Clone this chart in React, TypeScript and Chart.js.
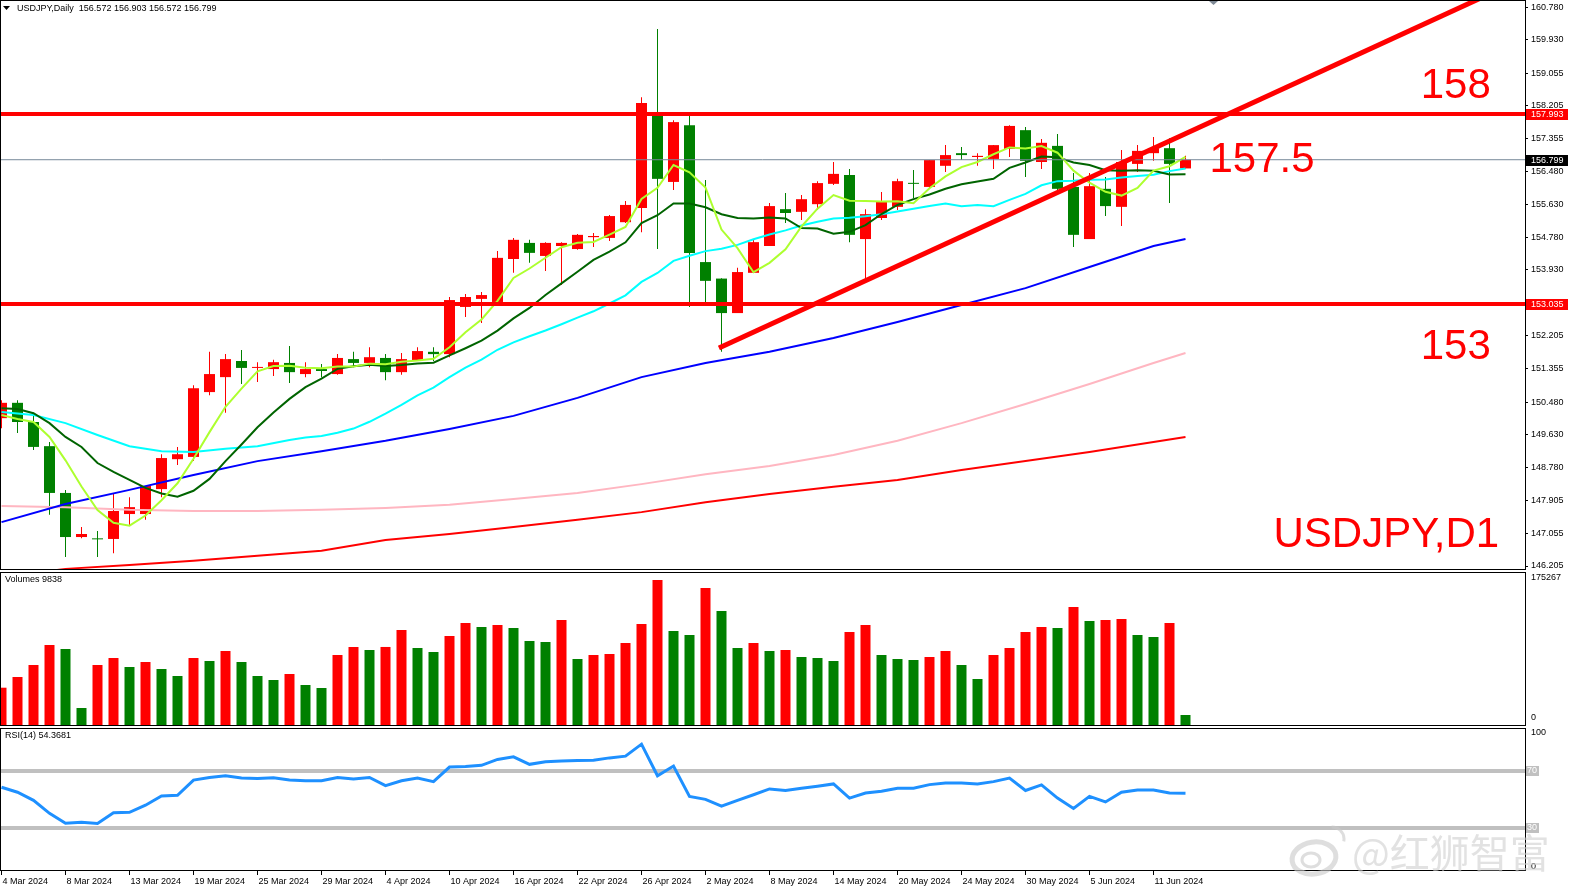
import { useEffect, useRef } from 'react';
import { Chart, registerables } from 'chart.js';

Chart.register(...registerables);

const FONT = '"Liberation Sans", Arial, sans-serif';
const X_MIN = -0.09375;
const X_MAX = 95.21875;
const UP = '#FF0000';
const DOWN = '#008000';

const headerMain = 'USDJPY,Daily  156.572 156.903 156.572 156.799';
const headerVol = 'Volumes 9838';
const headerRsi = 'RSI(14) 54.3681';

const dateLabels = ['4 Mar 2024', '8 Mar 2024', '13 Mar 2024', '19 Mar 2024', '25 Mar 2024', '29 Mar 2024', '4 Apr 2024', '10 Apr 2024', '16 Apr 2024', '22 Apr 2024', '26 Apr 2024', '2 May 2024', '8 May 2024', '14 May 2024', '20 May 2024', '24 May 2024', '30 May 2024', '5 Jun 2024', '11 Jun 2024'];
const dateStep = 4;

const priceTicks = [160.78, 159.93, 159.055, 158.205, 157.355, 156.48, 155.63, 154.78, 153.93, 152.205, 151.355, 150.48, 149.63, 148.78, 147.905, 147.055, 146.205];
const priceMin = 146.1007;
const priceMax = 160.964;

const opens = [150.06, 150.46, 149.96, 149.33, 148.11, 146.96, 146.92, 146.91, 147.56, 147.56,
  148.21, 148.99, 149.05, 150.74, 151.13, 151.55, 151.37, 151.34, 151.50, 151.21,
  151.34, 151.21, 151.60, 151.50, 151.63, 151.26, 151.55, 151.79, 151.73, 152.96,
  153.17, 153.09, 154.21, 154.63, 154.29, 154.55, 154.47, 154.78, 154.76, 155.17,
  155.54, 157.96, 156.22, 157.70, 154.13, 153.70, 152.80, 153.85, 154.55, 155.51,
  155.44, 155.64, 156.17, 156.40, 154.73, 155.28, 155.57, 156.19, 156.09, 156.64,
  156.97, 156.87, 156.82, 157.08, 157.57, 156.74, 157.16, 156.09, 154.73, 156.04,
  155.57, 156.69, 156.97, 157.10, 156.572];
const highs = [150.53, 150.53, 150.20, 149.44, 148.19, 147.22, 147.12, 148.11, 148.00, 148.29,
  149.12, 149.31, 150.92, 151.79, 151.73, 151.84, 151.52, 151.58, 151.94, 151.52,
  151.47, 151.73, 151.79, 151.91, 151.73, 151.76, 151.91, 151.91, 153.22, 153.30,
  153.35, 154.42, 154.76, 154.71, 154.65, 154.65, 154.86, 154.89, 155.36, 155.72,
  158.43, 160.21, 157.83, 157.96, 156.27, 153.71, 153.98, 154.73, 155.67, 155.93,
  155.88, 156.24, 156.74, 156.56, 155.51, 155.96, 156.30, 156.53, 156.79, 157.18,
  157.13, 156.97, 157.18, 157.70, 157.65, 157.34, 157.47, 156.45, 156.45, 156.35,
  157.05, 157.18, 157.39, 157.36, 156.903];
const lows = [149.80, 149.67, 149.23, 147.54, 146.44, 146.93, 146.44, 146.54, 147.25, 147.41,
  148.00, 148.84, 148.94, 150.66, 150.20, 150.95, 151.00, 151.16, 150.98, 151.13,
  151.13, 151.19, 151.39, 151.39, 151.05, 151.19, 151.55, 151.55, 151.65, 152.70,
  152.54, 153.05, 153.85, 154.11, 153.90, 153.53, 154.45, 154.52, 154.68, 155.15,
  154.91, 154.47, 156.01, 152.96, 153.01, 151.79, 152.80, 153.85, 154.55, 155.15,
  155.23, 155.49, 156.14, 154.65, 153.61, 155.23, 155.49, 155.80, 156.06, 156.48,
  156.79, 156.64, 156.56, 156.87, 156.35, 156.56, 155.96, 154.52, 154.73, 155.33,
  155.07, 156.48, 156.77, 155.67, 156.572];
const closes = [150.46, 149.96, 149.31, 148.11, 146.96, 147.04, 146.90, 147.64, 147.74, 148.29,
  149.02, 149.12, 150.84, 151.21, 151.60, 151.37, 151.39, 151.52, 151.26, 151.34,
  151.29, 151.63, 151.50, 151.65, 151.26, 151.60, 151.81, 151.73, 153.14, 153.22,
  153.27, 154.24, 154.71, 154.37, 154.63, 154.63, 154.84, 154.81, 155.33, 155.62,
  158.28, 156.30, 157.78, 154.37, 153.64, 152.80, 153.87, 154.65, 155.59, 155.41,
  155.77, 156.19, 156.43, 154.84, 155.38, 155.70, 156.24, 156.17, 156.79, 156.92,
  156.92, 156.90, 157.18, 157.68, 156.77, 157.24, 156.04, 154.84, 156.11, 155.59,
  156.74, 157.03, 157.10, 156.69, 156.799];

const volumes = [43590, 55760, 69420, 92180, 87630, 20480, 69420, 77380, 67140, 72830,
  64870, 56900, 77380, 73970, 85350, 72830, 56900, 52350, 59180, 46660,
  43240, 80800, 89900, 86490, 89950, 109250, 88760, 84210, 102420, 117210,
  112660, 114940, 111520, 96730, 95590, 120630, 76250, 80800, 81940, 94450,
  116080, 166150, 108110, 103560, 157040, 130870, 88760, 94450, 85350, 86490,
  78520, 77380, 73970, 106970, 114940, 80800, 76250, 75110, 78520, 85350,
  69420, 53490, 80800, 88760, 106970, 112660, 111520, 135420, 119490, 120630,
  121770, 103560, 101280, 117210, 12520];
const volumeMax = 175267;

const rsiValues = [58.6, 55.1, 49.4, 40.3, 33.4, 34.1, 33.2, 40.7, 41.0, 46.0,
  52.4, 52.9, 63.6, 65.4, 66.6, 65.0, 64.7, 65.2, 63.6, 63.1,
  63.1, 65.4, 64.3, 65.4, 59.7, 63.1, 65.0, 62.5, 72.7, 73.0,
  73.9, 78.0, 79.8, 74.6, 76.4, 76.9, 77.3, 77.5, 79.1, 80.3,
  88.7, 66.6, 73.4, 52.2, 50.1, 45.3, 49.4, 53.3, 57.4, 56.3,
  57.9, 59.3, 60.9, 51.0, 54.5, 55.8, 57.9, 57.9, 60.4, 61.5,
  61.5, 60.9, 62.5, 65.0, 56.3, 60.2, 51.0, 43.7, 52.2, 48.3,
  55.1, 56.7, 56.7, 54.5, 54.37];
const rsiLevels = [70, 30];

const ma5EarlyIdx = [0, 1, 2, 3];
const ma5Early = [150.14, 150.04, 149.96, 149.57];
const ma10EarlyIdx = [0, 1, 2, 3, 4, 5, 6, 7, 8];
const ma10Early = [150.32, 150.30, 150.19, 149.93, 149.57, 149.31, 148.89, 148.66, 148.45];
const ma20EarlyIdx = [0, 2, 4, 6, 8, 10, 12, 14, 16, 18];
const ma20Early = [150.22, 150.14, 149.93, 149.62, 149.33, 149.20, 149.18, 149.26, 149.33, 149.49];

// slow averages
const slowIdx = [0, 4, 8, 12, 16, 20, 24, 28, 32, 36, 40, 44, 48, 52, 56, 60, 64, 68, 72, 74];
const ma50 = [147.35, 147.82, 148.19, 148.58, 148.94, 149.20, 149.47, 149.78, 150.12, 150.59, 151.13, 151.50, 151.79, 152.15, 152.57, 153.01, 153.45, 154.00, 154.55, 154.73];
const ma100 = [147.77, 147.74, 147.67, 147.64, 147.64, 147.67, 147.72, 147.80, 147.95, 148.11, 148.34, 148.60, 148.81, 149.10, 149.47, 149.93, 150.43, 150.95, 151.50, 151.76];
const ma200 = [145.92, 146.13, 146.23, 146.34, 146.47, 146.60, 146.88, 147.04, 147.22, 147.41, 147.61, 147.87, 148.08, 148.27, 148.45, 148.71, 148.94, 149.18, 149.44, 149.57];

const hLevels = [157.993, 153.035];
const bidPrice = 156.799;
const trendBars = [44.84, 93];
const trendPrices = [151.89, 161.12];

const noteTexts = ['158', '157.5', '153', 'USDJPY,D1'];
const noteBars = [88.7, 75.5, 88.7, 79.5];
const notePrices = [158.41, 156.48, 151.60, 146.70];

const isUp = (i: number) => closes[i] >= opens[i];
const candleColors = closes.map((_, i) => (isUp(i) ? UP : DOWN));
const volColors = volumes.map((v, i) => (i === 0 || v > volumes[i - 1] ? UP : DOWN));

function smaPoints(period: number, earlyIdx: number[], early: number[]) {
  const pts = earlyIdx.map((k, j) => ({ x: k, y: early[j] }));
  for (let i = period - 1; i < closes.length; i++) {
    let s = 0;
    for (let k = i - period + 1; k <= i; k++) s += closes[k];
    pts.push({ x: i, y: s / period });
  }
  return pts;
}

const sparse = (vals: number[]) => slowIdx.map((k, j) => ({ x: k, y: vals[j] }));
const hline = (v: number) => [{ x: X_MIN, y: v }, { x: X_MAX, y: v }];

function lineDs(data: any[], color: string, width: number, order: number) {
  return { type: 'line' as const, data, borderColor: color, borderWidth: width, pointRadius: 0, tension: 0, fill: false, order, clip: 0 };
}

function drawFrame(chart: any) {
  const { ctx, chartArea: a } = chart;
  ctx.save();
  ctx.strokeStyle = '#000';
  ctx.lineWidth = 1;
  ctx.strokeRect(Math.round(a.left) + 0.5, Math.round(a.top) + 0.5, Math.round(a.right - a.left), Math.round(a.bottom - a.top) - 1);
  ctx.restore();
}

const noPad = (s: any) => { s.paddingTop = 0; s.paddingBottom = 0; };
const xHidden = { type: 'linear' as const, min: X_MIN, max: X_MAX, display: false, offset: false };

export default function App() {
  const mainRef = useRef<HTMLCanvasElement>(null);
  const volRef = useRef<HTMLCanvasElement>(null);
  const rsiRef = useRef<HTMLCanvasElement>(null);

  useEffect(() => {
    const charts: Chart[] = [];

    const mainDecor = {
      id: 'mainDecor',
      afterDraw(chart: any) {
        const { ctx, scales } = chart;
        const ys = scales.y;
        const xs = scales.x;
        drawFrame(chart);
        ctx.save();
        ctx.fillStyle = '#000';
        ctx.beginPath();
        ctx.moveTo(3, 6); ctx.lineTo(10, 6); ctx.lineTo(6.5, 10); ctx.closePath(); ctx.fill();
        ctx.font = `9px ${FONT}`;
        ctx.textBaseline = 'middle';
        ctx.textAlign = 'left';
        ctx.fillText(headerMain, 17, 9);
        ctx.fillStyle = '#7f8a96';
        ctx.beginPath();
        ctx.moveTo(1209, 1); ctx.lineTo(1218, 1); ctx.lineTo(1213.5, 5); ctx.closePath(); ctx.fill();
        ctx.fillStyle = '#FF0000';
        ctx.font = `42px ${FONT}`;
        ctx.textBaseline = 'alphabetic';
        noteTexts.forEach((t, i) => {
          ctx.fillText(t, xs.getPixelForValue(noteBars[i]), ys.getPixelForValue(notePrices[i]));
        });
        const boxes: [number, string][] = [[hLevels[0], '#FF0000'], [bidPrice, '#000000'], [hLevels[1], '#FF0000']];
        ctx.font = `9px ${FONT}`;
        ctx.textBaseline = 'middle';
        boxes.forEach(([v, bg]) => {
          const py = Math.round(ys.getPixelForValue(v));
          ctx.fillStyle = bg;
          ctx.fillRect(1526, py - 5, 42, 11);
          ctx.fillStyle = '#FFFFFF';
          ctx.fillText(v.toFixed(3), 1531, py + 0.5);
        });
        ctx.restore();
      },
    };

    if (mainRef.current) {
      charts.push(new Chart(mainRef.current, {
        type: 'bar',
        data: {
          datasets: [
            { type: 'bar', data: closes.map((_, i) => ({ x: i, y: [lows[i], highs[i]] })), backgroundColor: candleColors, barThickness: 1, grouped: false, inflateAmount: 0, order: 30 } as any,
            { type: 'bar', data: closes.map((_, i) => ({ x: i, y: [opens[i], closes[i]] })), backgroundColor: candleColors, barThickness: 11, grouped: false, minBarLength: 1, inflateAmount: 0, order: 29 } as any,
            lineDs(sparse(ma200), '#FF0000', 2, 20),
            lineDs(sparse(ma100), '#FFB6C1', 2, 19),
            lineDs(sparse(ma50), '#0000FF', 2, 18),
            lineDs(smaPoints(20, ma20EarlyIdx, ma20Early), '#00FFFF', 2, 17),
            lineDs(smaPoints(10, ma10EarlyIdx, ma10Early), '#006400', 2, 16),
            lineDs(smaPoints(5, ma5EarlyIdx, ma5Early), '#ADFF2F', 2, 15),
            lineDs(hline(bidPrice), '#778899', 1, 12),
            lineDs(hline(hLevels[0]), '#FF0000', 4, 10),
            lineDs(hline(hLevels[1]), '#FF0000', 4, 10),
            lineDs(trendBars.map((b, i) => ({ x: b, y: trendPrices[i] })), '#FF0000', 5, 9),
          ] as any,
        },
        options: {
          animation: false,
          responsive: false,
          maintainAspectRatio: false,
          layout: { padding: { top: 0, bottom: 1, left: 0, right: 0 } },
          plugins: { legend: { display: false }, tooltip: { enabled: false } },
          scales: {
            x: xHidden,
            y: {
              position: 'right',
              min: priceMin,
              max: priceMax,
              afterBuildTicks: (s: any) => { s.ticks = priceTicks.map((v) => ({ value: v })); },
              afterFit: (s: any) => { s.width = 48; noPad(s); },
              ticks: { autoSkip: false, padding: 3, color: '#000', font: { family: FONT, size: 9 }, callback: (v: any) => Number(v).toFixed(3) },
              grid: { drawOnChartArea: false, drawTicks: true, tickLength: 3, color: '#000' },
              border: { display: false },
            },
          },
        } as any,
        plugins: [mainDecor],
      }));
    }

    const volDecor = {
      id: 'volDecor',
      afterDraw(chart: any) {
        const { ctx } = chart;
        drawFrame(chart);
        ctx.save();
        ctx.fillStyle = '#000';
        ctx.font = `9px ${FONT}`;
        ctx.textBaseline = 'middle';
        ctx.textAlign = 'left';
        ctx.fillText(headerVol, 5, 9);
        ctx.fillText(String(volumeMax), 1531, 7);
        ctx.fillText('0', 1531, 147);
        ctx.restore();
      },
    };

    if (volRef.current) {
      charts.push(new Chart(volRef.current, {
        type: 'bar',
        data: {
          datasets: [
            { type: 'bar', data: volumes.map((v, i) => ({ x: i, y: v })), backgroundColor: volColors, barThickness: 10, grouped: false, inflateAmount: 0 } as any,
          ],
        },
        options: {
          animation: false,
          responsive: false,
          maintainAspectRatio: false,
          layout: { padding: { top: 1, bottom: 1, left: 0, right: 0 } },
          plugins: { legend: { display: false }, tooltip: { enabled: false } },
          scales: {
            x: xHidden,
            y: {
              position: 'right', min: 0, max: volumeMax,
              afterFit: (s: any) => { s.width = 48; noPad(s); },
              ticks: { display: false },
              grid: { display: false },
              border: { display: false },
            },
          },
        } as any,
        plugins: [volDecor],
      }));
    }

    const rsiDecor = {
      id: 'rsiDecor',
      afterDraw(chart: any) {
        const { ctx, scales } = chart;
        const ys = scales.y;
        drawFrame(chart);
        ctx.save();
        ctx.fillStyle = '#000';
        ctx.font = `9px ${FONT}`;
        ctx.textBaseline = 'middle';
        ctx.textAlign = 'left';
        ctx.fillText(headerRsi, 5, 9);
        ctx.fillText('100', 1531, 6);
        ctx.fillText('0', 1531, 140);
        rsiLevels.forEach((lv) => {
          const py = Math.round(ys.getPixelForValue(lv));
          ctx.fillStyle = '#C0C0C0';
          ctx.fillRect(1526, py - 5, 13, 10);
          ctx.fillStyle = '#FFFFFF';
          ctx.fillText(String(lv), 1527, py);
        });
        ctx.globalAlpha = 0.6;
        ctx.strokeStyle = '#c8c8c8';
        ctx.lineWidth = 5;
        ctx.beginPath();
        ctx.ellipse(1314, 131, 22, 16, -0.15, 0, Math.PI * 2);
        ctx.stroke();
        ctx.lineWidth = 3;
        ctx.beginPath();
        ctx.ellipse(1311, 133, 9, 7, 0, 0, Math.PI * 2);
        ctx.stroke();
        ctx.beginPath();
        ctx.arc(1332, 112, 12, -1.6, 0.2);
        ctx.stroke();
        ctx.fillStyle = '#cfcfcf';
        ctx.font = '40px "Noto Sans CJK SC", sans-serif';
        ctx.textBaseline = 'alphabetic';
        ctx.fillText('@红狮智富', 1352, 141);
        ctx.restore();
      },
    };

    if (rsiRef.current) {
      charts.push(new Chart(rsiRef.current, {
        type: 'line',
        data: {
          datasets: [
            lineDs(hline(rsiLevels[0]), '#C0C0C0', 4, 5),
            lineDs(hline(rsiLevels[1]), '#C0C0C0', 4, 5),
            lineDs(rsiValues.map((v, i) => ({ x: i, y: v })), '#1E90FF', 3, 1),
          ] as any,
        },
        options: {
          animation: false,
          responsive: false,
          maintainAspectRatio: false,
          layout: { padding: { top: 1, bottom: 0, left: 0, right: 0 } },
          plugins: { legend: { display: false }, tooltip: { enabled: false } },
          scales: {
            x: {
              type: 'linear', min: X_MIN, max: X_MAX, offset: false,
              afterBuildTicks: (s: any) => { s.ticks = dateLabels.map((_, k) => ({ value: k * dateStep })); },
              afterFit: (s: any) => { s.height = 23; s.paddingLeft = 0; s.paddingRight = 0; },
              ticks: { autoSkip: false, maxRotation: 0, minRotation: 0, align: 'start', padding: 1, labelOffset: 1, color: '#000', font: { family: FONT, size: 9 }, callback: (_v: any, idx: number) => dateLabels[idx] },
              grid: { drawOnChartArea: false, drawTicks: true, tickLength: 4, color: '#000' },
              border: { display: false },
            },
            y: {
              position: 'right', min: 0, max: 100,
              afterFit: (s: any) => { s.width = 48; noPad(s); },
              ticks: { display: false },
              grid: { display: false },
              border: { display: false },
            },
          },
        } as any,
        plugins: [rsiDecor],
      }));
    }

    return () => charts.forEach((c) => c.destroy());
  }, []);

  return (
    <div style={{ position: 'fixed', left: 0, top: 0, width: 1573, height: 894, background: '#ffffff', overflow: 'hidden' }}>
      <canvas ref={mainRef} width={1573} height={571} style={{ position: 'absolute', left: 0, top: 0, display: 'block' }} />
      <canvas ref={volRef} width={1573} height={156} style={{ position: 'absolute', left: 0, top: 571, display: 'block' }} />
      <canvas ref={rsiRef} width={1573} height={167} style={{ position: 'absolute', left: 0, top: 727, display: 'block' }} />
    </div>
  );
}
